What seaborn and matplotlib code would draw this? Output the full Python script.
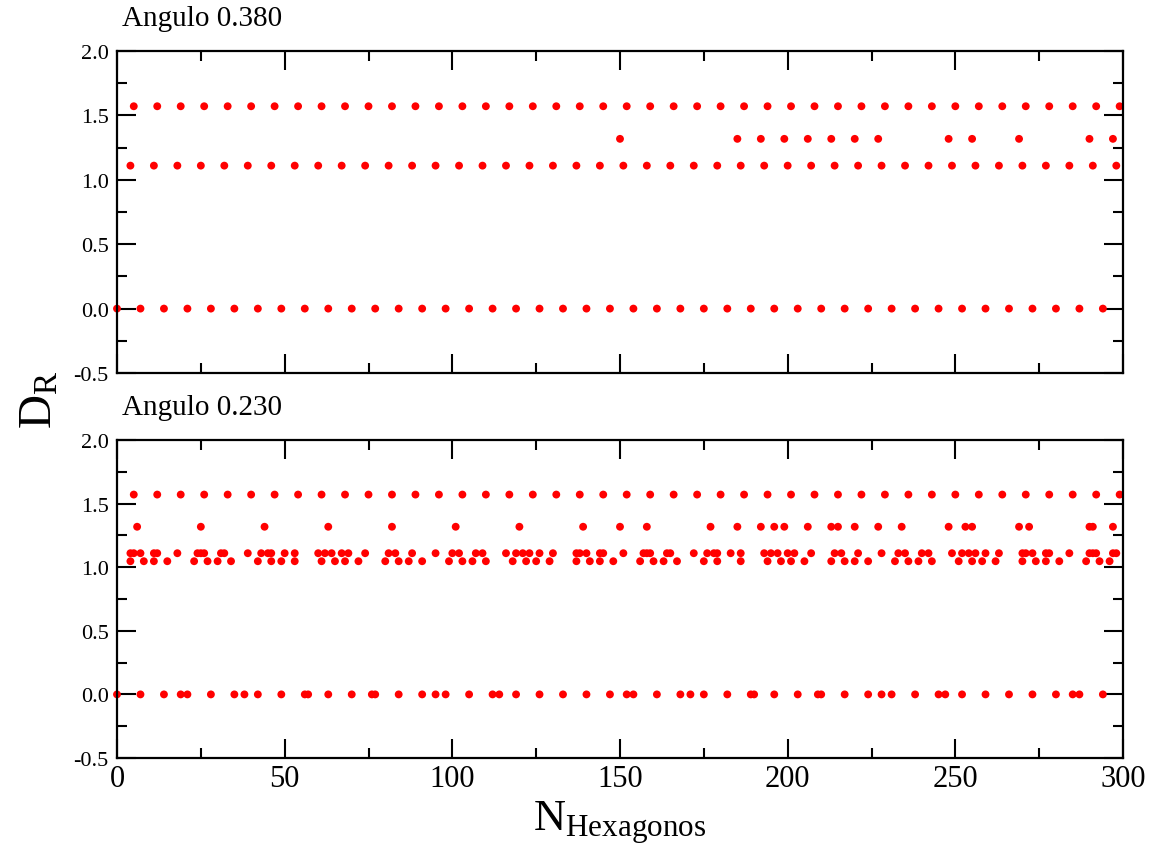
import matplotlib
matplotlib.use("Agg")
import matplotlib.pyplot as plt
from matplotlib.ticker import MultipleLocator, FormatStrFormatter
import seaborn as sns
import pandas as pd

# ---------------- data ----------------
levels = {"a": 0.0, "b": 1.047, "c": 1.11, "d": 1.318, "e": 1.571}

# Panel 1: Angulo 0.380
top_x_a = [0, 7, 14, 21, 28, 35, 42, 49, 56, 63, 70, 77, 84, 91, 98, 105, 112, 119, 126, 133,
           140, 147, 154, 161, 168, 175, 182, 189, 196, 203, 210, 217, 224, 231, 238, 245, 252,
           259, 266, 273, 280, 287, 294]
top_x_c = [4, 11, 18, 25, 32, 39, 46, 53, 60, 67, 74, 81, 88, 95, 102, 109, 116, 123, 130, 137,
           144, 151, 158, 165, 172, 179, 186, 193, 200, 207, 214, 221, 228, 235, 242, 249, 256,
           263, 270, 277, 284, 291, 298]
top_x_d = [150, 185, 192, 199, 206, 213, 220, 227, 248, 255, 269, 290, 297]
top_x_e = [5, 12, 19, 26, 33, 40, 47, 54, 61, 68, 75, 82, 89, 96, 103, 110, 117, 124, 131, 138,
           145, 152, 159, 166, 173, 180, 187, 194, 201, 208, 215, 222, 229, 236, 243, 250, 257,
           264, 271, 278, 285, 292, 299]

# Panel 2: Angulo 0.230
bot_x_a = [0, 7, 14, 19, 21, 28, 35, 38, 42, 49, 56, 57, 63, 70, 76, 77, 84, 91, 95, 98, 105,
           112, 114, 119, 126, 133, 140, 147, 152, 154, 161, 168, 171, 175, 182, 189, 190, 196,
           203, 209, 210, 217, 224, 228, 231, 238, 245, 247, 252, 259, 266, 273, 280, 285, 287,
           294]
bot_x_b = [4, 8, 11, 15, 23, 27, 30, 34, 42, 46, 49, 53, 61, 65, 68, 72, 80, 84, 87, 91, 99,
           103, 106, 110, 118, 122, 125, 129, 137, 141, 144, 148, 156, 160, 163, 167, 175, 179,
           186, 194, 198, 201, 205, 213, 217, 220, 224, 232, 236, 239, 243, 251, 255, 258, 262,
           270, 274, 277, 281, 289, 293, 296]
bot_x_c = [4, 5, 7, 11, 12, 18, 24, 25, 26, 31, 32, 39, 43, 45, 46, 50, 53, 60, 62, 64, 67, 69,
           74, 81, 83, 88, 95, 100, 102, 107, 109, 116, 119, 121, 123, 126, 130, 137, 138, 140,
           144, 145, 151, 157, 158, 159, 164, 165, 172, 176, 178, 179, 183, 186, 193, 195, 197,
           200, 202, 207, 214, 216, 221, 228, 233, 235, 240, 242, 249, 252, 254, 256, 259, 263,
           270, 271, 273, 277, 278, 284, 290, 291, 292, 297, 298]
bot_x_d = [6, 25, 44, 63, 82, 101, 120, 139, 150, 158, 177, 185, 192, 196, 199, 206, 213, 215,
           220, 227, 234, 248, 253, 255, 269, 272, 290, 291, 297]
bot_x_e = [5, 12, 19, 26, 33, 40, 47, 54, 61, 68, 75, 82, 89, 96, 103, 110, 117, 124, 131, 138,
           145, 152, 159, 166, 173, 180, 187, 194, 201, 208, 215, 222, 229, 236, 243, 250, 257,
           264, 271, 278, 285, 292, 299]

titles = ["Angulo 0.380", "Angulo 0.230"]
x_ticks = [0, 50, 100, 150, 200, 250, 300]
y_ticks = [-0.5, 0.0, 0.5, 1.0, 1.5, 2.0]


def make_df(groups):
    rows = []
    for key, xs in groups:
        for x in xs:
            rows.append({"N": x, "D": levels[key]})
    return pd.DataFrame(rows)


df_top = make_df([("a", top_x_a), ("c", top_x_c), ("d", top_x_d), ("e", top_x_e)])
df_bot = make_df([("a", bot_x_a), ("b", bot_x_b), ("c", bot_x_c), ("d", bot_x_d), ("e", bot_x_e)])

# ---------------- style ----------------
sns.set_style("ticks")
plt.rcParams["font.family"] = ["Liberation Serif", "DejaVu Serif"]
plt.rcParams["mathtext.fontset"] = "custom"
plt.rcParams["mathtext.rm"] = "Liberation Serif"
plt.rcParams["mathtext.it"] = "Liberation Serif"
plt.rcParams["axes.unicode_minus"] = False
for k in ["text.color", "axes.labelcolor", "xtick.color", "ytick.color",
          "xtick.labelcolor", "ytick.labelcolor", "axes.edgecolor"]:
    plt.rcParams[k] = "black"

fig = plt.figure(figsize=(11.61, 8.54), dpi=100)
left = 117 / 1161
width = (1123 - 117) / 1161
ax1 = fig.add_axes([left, 1 - 374 / 854, width, (374 - 52) / 854])
ax2 = fig.add_axes([left, 1 - 759 / 854, width, (759 - 441) / 854])

for ax, df, title in [(ax1, df_top, titles[0]), (ax2, df_bot, titles[1])]:
    sns.scatterplot(data=df, x="N", y="D", ax=ax, color="#ff0000", s=32,
                    edgecolor="none", linewidth=0, clip_on=False, zorder=3)
    ax.set_xlim(0, 300)
    ax.set_ylim(-0.5, 2.0)
    ax.set_xticks(x_ticks)
    ax.set_yticks(y_ticks)
    ax.xaxis.set_minor_locator(MultipleLocator(25))
    ax.yaxis.set_minor_locator(MultipleLocator(0.25))
    ax.yaxis.set_major_formatter(FormatStrFormatter("%.1f"))
    ax.tick_params(which="both", direction="in", top=True, right=True, width=1.5,
                   color="black", labelcolor="black")
    ax.tick_params(which="major", length=14)
    ax.tick_params(which="minor", length=7)
    ax.tick_params(axis="y", labelsize=16, pad=6)
    ax.tick_params(axis="x", labelsize=22, pad=4)
    for sp in ax.spines.values():
        sp.set_linewidth(1.6)
        sp.set_color("black")
        sp.set_zorder(4)
    ax.set_xlabel("")
    ax.set_ylabel("")

ax1.tick_params(axis="x", labelbottom=False)

fig.text(122 / 1161, 1 - 26 / 854, titles[0], fontsize=21, ha="left", va="baseline",
         color="black")
fig.text(122 / 1161, 1 - 415 / 854, titles[1], fontsize=21, ha="left", va="baseline",
         color="black")

fig.text(40 / 1161, 1 - 400 / 854, r"$\mathregular{D_R}$", fontsize=34, rotation=90,
         ha="center", va="center", color="black")
fig.text(620 / 1161, 1 - 823 / 854, r"$\mathregular{N_{Hexagonos}}$", fontsize=32,
         ha="center", va="center", color="black")

fig.savefig("out.png", dpi=100)
